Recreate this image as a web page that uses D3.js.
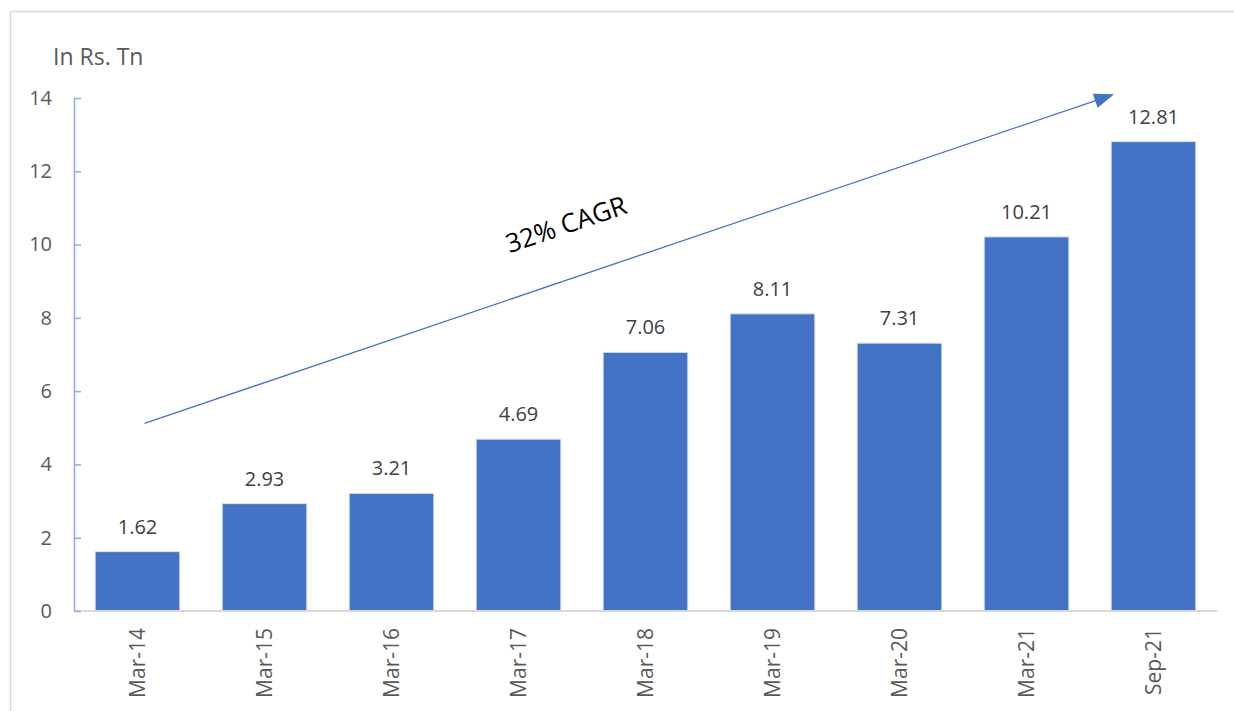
<!DOCTYPE html>
<html>
<head>
<meta charset="utf-8">
<script src="https://cdn.jsdelivr.net/npm/d3@7"></script>
<style>
  body { margin: 0; background: #fff; }
  text { font-family: "Open Sans", "Liberation Sans", sans-serif; }
</style>
</head>
<body>
<svg id="chart"></svg>
<script>
// chart data
var categories = ['Mar-14', 'Mar-15', 'Mar-16', 'Mar-17', 'Mar-18', 'Mar-19', 'Mar-20', 'Mar-21', 'Sep-21'];
var values = [1.62, 2.93, 3.21, 4.69, 7.06, 8.11, 7.31, 10.21, 12.81];
var yTicks = [0, 2, 4, 6, 8, 10, 12, 14];
var unitLabel = 'In Rs. Tn';
var trendLabel = '32% CAGR';

var width = 1234, height = 711;
var margin = { top: 98, right: 17, bottom: 99, left: 74 };
var fontFam = '"Open Sans", "Liberation Sans", sans-serif';

var svg = d3.select('#chart')
    .attr('width', width)
    .attr('height', height);

// outer frame
svg.append('rect')
    .attr('x', 10.5).attr('y', 11.5)
    .attr('width', width).attr('height', height)
    .attr('fill', 'none')
    .attr('stroke', '#d9d9d9')
    .attr('stroke-width', 1.5);

var x = d3.scaleBand()
    .domain(categories)
    .range([margin.left, width - margin.right])
    .paddingInner(1 / 3)
    .paddingOuter(1 / 6);

var y = d3.scaleLinear()
    .domain([0, 14])
    .range([height - margin.bottom - 1, margin.top]);

// bars
svg.selectAll('.bar')
    .data(values)
    .enter().append('rect')
    .attr('class', 'bar')
    .attr('x', function (d, i) { return x(categories[i]); })
    .attr('y', function (d) { return y(d); })
    .attr('width', x.bandwidth())
    .attr('height', function (d) { return y(0) - y(d); })
    .attr('fill', '#4472c4')
    .attr('stroke', '#dae3f3')
    .attr('stroke-width', 1);

// value labels
svg.selectAll('.val')
    .data(values)
    .enter().append('text')
    .attr('class', 'val')
    .attr('x', function (d, i) { return x(categories[i]) + x.bandwidth() / 2; })
    .attr('y', function (d) { return y(d) - 18; })
    .attr('text-anchor', 'middle')
    .attr('font-size', 20)
    .attr('fill', '#404040')
    .text(function (d) { return d.toFixed(2); });

// x axis
var xAxis = svg.append('g')
    .attr('transform', 'translate(0,' + y(0) + ')')
    .call(d3.axisBottom(x).tickSize(0).tickSizeOuter(0));
xAxis.select('.domain')
    .attr('stroke', '#d9d9d9')
    .attr('stroke-width', 2)
    .attr('d', 'M' + margin.left + ',0H' + (width - margin.right));
xAxis.selectAll('text')
    .attr('transform', 'rotate(-90)')
    .attr('text-anchor', 'end')
    .attr('x', -17)
    .attr('y', 0)
    .attr('dy', '0.35em')
    .attr('font-size', 21)
    .attr('font-family', fontFam)
    .attr('fill', '#595959');

// y axis
var yAxis = svg.append('g')
    .attr('transform', 'translate(' + margin.left + ',0)')
    .call(d3.axisRight(y).tickValues(yTicks).tickSize(7).tickSizeOuter(0));
yAxis.select('.domain')
    .attr('stroke', '#8faadc')
    .attr('stroke-width', 1.5);
yAxis.selectAll('line')
    .attr('stroke', '#8faadc')
    .attr('stroke-width', 1.5);
yAxis.selectAll('text')
    .attr('x', -22)
    .attr('text-anchor', 'end')
    .attr('font-size', 20)
    .attr('font-family', fontFam)
    .attr('fill', '#595959');

// unit label
svg.append('text')
    .attr('x', 53)
    .attr('y', 65)
    .attr('font-size', 23)
    .attr('fill', '#595959')
    .text(unitLabel);

// trend arrow
var arrowStart = { cat: 'Mar-14', v: 5.12 };
var arrowEnd = { cat: 'Sep-21', v: 14.1 };
var ax1 = x(arrowStart.cat) + x.bandwidth() / 2 + 7;
var ax2 = x(arrowEnd.cat) + 3;
svg.append('line')
    .attr('x1', ax1).attr('y1', y(arrowStart.v))
    .attr('x2', ax2 - 6).attr('y2', y(arrowEnd.v) + 2)
    .attr('stroke', '#4472c4')
    .attr('stroke-width', 1.3);
// arrow head along the line direction
var ang = Math.atan2(y(arrowEnd.v) - y(arrowStart.v), ax2 - ax1);
var tipX = ax2, tipY = y(arrowEnd.v);
var hl = 20, hw = 7.5;
var bx = tipX - hl * Math.cos(ang), by = tipY - hl * Math.sin(ang);
svg.append('path')
    .attr('d', 'M' + tipX + ',' + tipY +
        'L' + (bx - hw * Math.sin(ang)) + ',' + (by + hw * Math.cos(ang)) +
        'L' + (bx + hw * Math.sin(ang)) + ',' + (by - hw * Math.cos(ang)) + 'Z')
    .attr('fill', '#4472c4');

svg.append('text')
    .attr('transform', 'translate(569,233) rotate(' + (ang * 180 / Math.PI) + ')')
    .attr('text-anchor', 'middle')
    .attr('font-size', 26)
    .attr('fill', '#000')
    .text(trendLabel);
</script>
</body>
</html>
